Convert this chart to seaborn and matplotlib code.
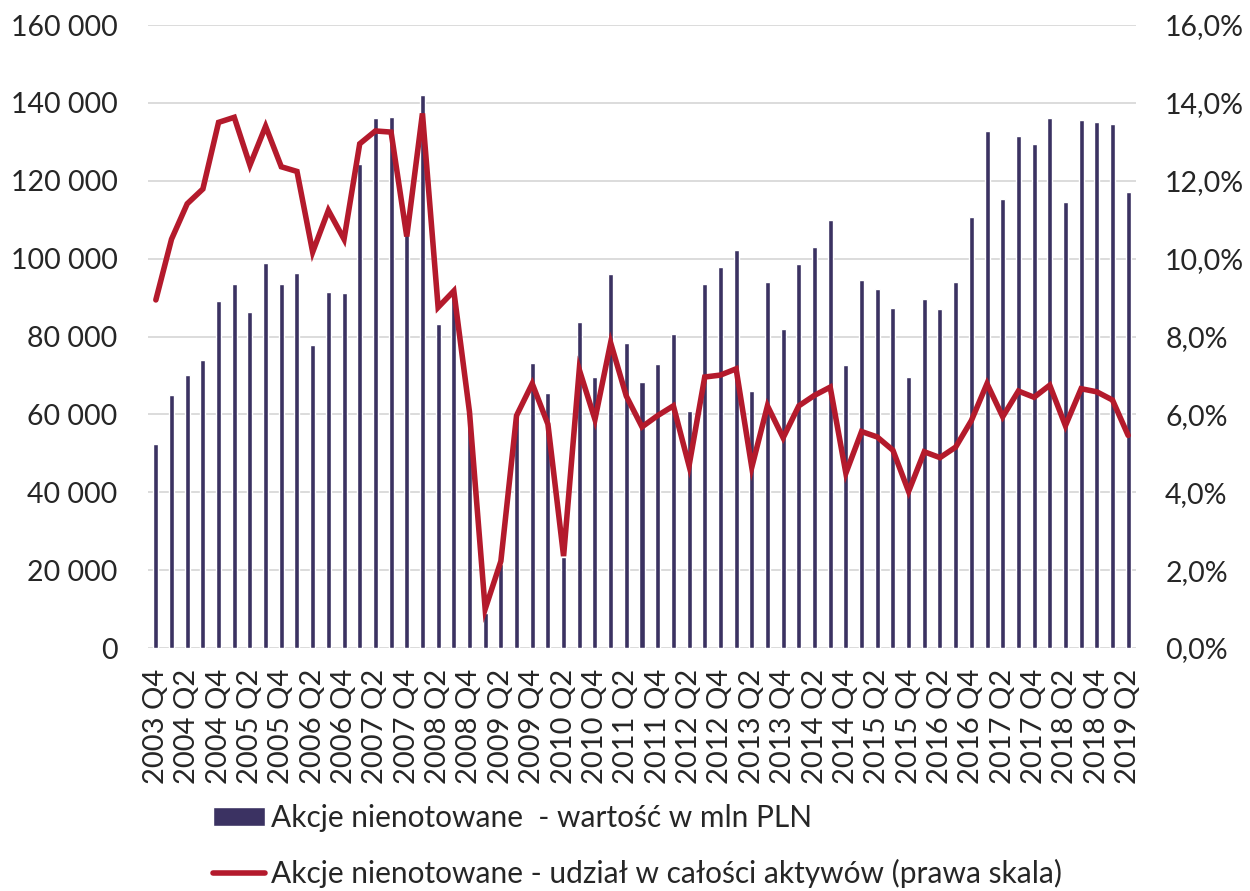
import numpy as np
import pandas as pd
import matplotlib
matplotlib.use('Agg')
import matplotlib.pyplot as plt
import seaborn as sns
from matplotlib.ticker import FuncFormatter

# quarters 2003 Q4 .. 2019 Q2
quarters = ['2003 Q4'] + [f'{y} Q{q}' for y in range(2004, 2019) for q in range(1, 5)] + ['2019 Q1', '2019 Q2']

# value of unlisted shares, mln PLN
wartosc = [52500, 65000, 70000, 74000, 89000, 93500, 86300, 99000, 93500, 96200,
           77700, 91400, 91200, 124400, 136000, 136400, 106500, 142000, 83300, 90000,
           56600, 9000, 21500, 60600, 73200, 65600, 23400, 83700, 69600, 96100,
           78400, 68300, 73000, 80700, 60900, 93500, 97800, 102200, 66000, 93900,
           82000, 98600, 102900, 109900, 72800, 94400, 92300, 87200, 69600, 89600,
           87000, 94000, 110600, 132900, 115300, 131400, 129500, 136000, 114600, 135700,
           135200, 134700, 117100]

# share in total assets, %
udzial = [8.94, 10.50, 11.41, 11.79, 13.50, 13.63, 12.40, 13.40, 12.36, 12.24,
          10.17, 11.24, 10.50, 12.95, 13.28, 13.25, 10.57, 13.73, 8.75, 9.17,
          6.06, 1.00, 2.23, 5.97, 6.79, 5.75, 2.36, 7.15, 5.87, 7.84,
          6.47, 5.68, 5.97, 6.22, 4.68, 6.96, 7.01, 7.17, 4.64, 6.22,
          5.40, 6.22, 6.49, 6.70, 4.49, 5.56, 5.42, 5.08, 4.02, 5.04,
          4.89, 5.16, 5.84, 6.79, 5.94, 6.60, 6.44, 6.75, 5.71, 6.66,
          6.58, 6.37, 5.46]

label_bar = 'Akcje nienotowane  - wartość w mln PLN'
label_line = 'Akcje nienotowane - udział w całości aktywów (prawa skala)'

bar_color = '#3B3262'
line_color = '#B41A2C'
grid_color = '#D9D9D9'

df = pd.DataFrame({'kwartal': quarters, 'wartosc': wartosc, 'udzial': np.array(udzial) / 100})
df['idx'] = df.index

sns.set_style('white')
plt.rcParams['font.family'] = ['Lato', 'DejaVu Sans']
plt.rcParams['font.size'] = 20

fig = plt.figure(figsize=(12.5, 8.91), dpi=100)
ax = fig.add_axes([0.1184, 0.2727, 0.7904, 0.6992])

sns.barplot(data=df, x='kwartal', y='wartosc', order=quarters, color=bar_color,
            saturation=1, width=0.32, ax=ax, label=label_bar)
ax.set_axisbelow(True)
ax.set_ylim(0, 160000)
ax.set_yticks(np.arange(0, 160001, 20000))
ax.yaxis.set_major_formatter(FuncFormatter(lambda v, p: f'{int(v):,}'.replace(',', ' ')))
ax.grid(axis='y', color=grid_color, lw=1.3)
ax.set_xlim(-0.5, len(quarters) - 0.5)
ax.set_xticks(range(0, len(quarters), 2))
ax.set_xticklabels(quarters[::2], rotation=90)
ax.set_xlabel('')
ax.set_ylabel('')
ax.tick_params(axis='y', length=0, pad=22, labelsize=20.5)
ax.tick_params(axis='x', length=0, pad=15, labelsize=21)
for s in ax.spines.values():
    s.set_visible(False)

ax2 = ax.twinx()
sns.lineplot(data=df, x='idx', y='udzial', color=line_color, lw=4, ax=ax2,
             label=label_line, solid_capstyle='round', solid_joinstyle='miter')
ax2.set_ylim(0, 0.16)
ax2.set_yticks(np.arange(0, 0.1601, 0.02))
ax2.yaxis.set_major_formatter(FuncFormatter(lambda v, p: f'{v * 100:.1f}%'.replace('.', ',')))
ax2.tick_params(axis='y', length=0, pad=21, labelsize=20.5)
ax2.set_ylabel('')
ax2.set_xlabel('')
ax2.grid(False)
for s in ax2.spines.values():
    s.set_visible(False)
ax2.get_legend().remove()
if ax.get_legend() is not None:
    ax.get_legend().remove()

h1, l1 = ax.get_legend_handles_labels()
h2, l2 = ax2.get_legend_handles_labels()
fig.legend(h1 + h2, l1 + l2, loc='upper left', bbox_to_anchor=(0.170, 1 - 804 / 891),
           frameon=False, fontsize=21.5, handlelength=1.75, handleheight=0.6,
           handletextpad=0.2, labelspacing=0.9, borderpad=0, borderaxespad=0)

fig.savefig('out.png', dpi=100)
